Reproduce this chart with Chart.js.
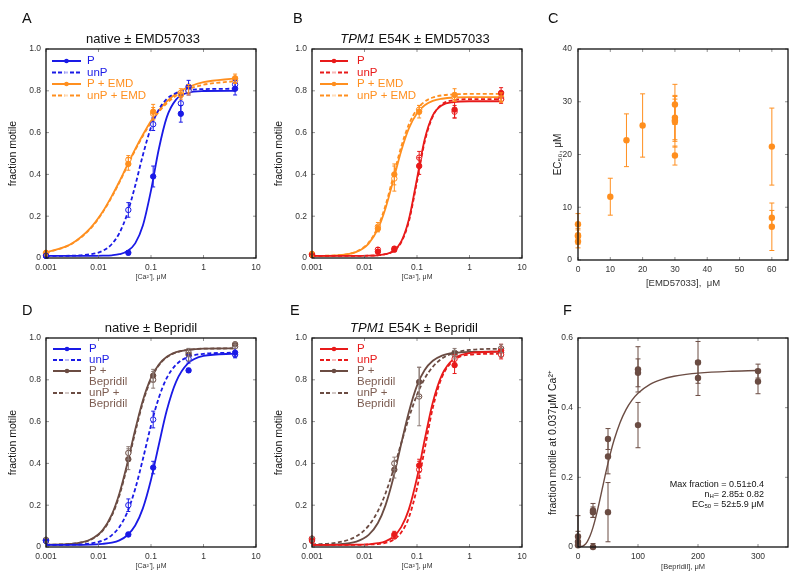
<!DOCTYPE html>
<html>
<head>
<meta charset="utf-8">
<script src="https://cdn.jsdelivr.net/npm/chart.js@4.4.0/dist/chart.umd.min.js"></script>
<style>
  body { margin: 0; background: #fff; width: 800px; height: 582px; position: relative; overflow: hidden;
         font-family: "Liberation Sans", Arial, Helvetica, sans-serif; color: #111; }
  .panel { position: absolute; width: 266px; height: 290px; }
  .letter { position: absolute; font-size: 14.5px; line-height: 1; }
  .ptitle { position: absolute; font-size: 13px; line-height: 1; white-space: nowrap; transform: translateX(-50%); }
  .note { position: absolute; right: 36px; top: 479px; font-size: 9px; line-height: 10px; text-align: right; }
  .note sub { font-size: 6px; line-height: 0; vertical-align: -1px; }
</style>
</head>
<body>
<div class="panel" style="left:0;top:0"><canvas id="chartA" width="266" height="290"></canvas></div>
<div class="panel" style="left:266px;top:0"><canvas id="chartB" width="266" height="290"></canvas></div>
<div class="panel" style="left:532px;top:0"><canvas id="chartC" width="266" height="290"></canvas></div>
<div class="panel" style="left:0;top:289px"><canvas id="chartD" width="266" height="290"></canvas></div>
<div class="panel" style="left:266px;top:289px"><canvas id="chartE" width="266" height="290"></canvas></div>
<div class="panel" style="left:532px;top:289px"><canvas id="chartF" width="266" height="290"></canvas></div>

<div class="letter" style="left:22px;top:11px">A</div>
<div class="ptitle" style="left:143px;top:32px">native ± EMD57033</div>
<div class="letter" style="left:293px;top:11px">B</div>
<div class="ptitle" style="left:415px;top:32px"><i>TPM1</i> E54K ± EMD57033</div>
<div class="letter" style="left:548px;top:11px">C</div>
<div class="letter" style="left:22px;top:303px">D</div>
<div class="ptitle" style="left:151px;top:321px">native ± Bepridil</div>
<div class="letter" style="left:290px;top:303px">E</div>
<div class="ptitle" style="left:414px;top:321px"><i>TPM1</i> E54K ± Bepridil</div>
<div class="letter" style="left:563px;top:303px">F</div>
<div class="note">Max fraction = 0.51±0.4<br>n<sub>H</sub>= 2.85± 0.82<br>EC<sub>50</sub> = 52±5.9 μM</div>

<script>
// ---- shared [Ca2+] axis ----
const caTicks = [0.001, 0.01, 0.1, 1, 10];
const caTickLabels = ['0.001', '0.01', '0.1', '1', '10'];
const motileTicks = [0, 0.2, 0.4, 0.6, 0.8, 1.0];
const motileTickLabels = ['0', '0.2', '0.4', '0.6', '0.8', '1.0'];
const caCurveX = [0.001, 0.003, 0.007, 0.012, 0.018, 0.025, 0.035, 0.05, 0.07, 0.1, 0.14, 0.2, 0.3, 0.5, 1, 4];

// ---- A: native +/- EMD57033 ----
const aX = [0.001, 0.037, 0.11, 0.37, 0.52, 4];
const aP = [0.01, 0.025, 0.39, 0.69, 0.82, 0.81];
const aPErr = [0.005, 0.01, 0.05, 0.04, 0.03, 0.03];
const aUnP = [0.01, 0.23, 0.64, 0.74, 0.80, 0.83];
const aUnPErr = [0.005, 0.035, 0.03, 0.04, 0.02, 0.02];
const aEmdP = [0.02, 0.45, 0.70, 0.78, 0.81, 0.86];
const aEmdPErr = [0.01, 0.03, 0.035, 0.02, 0.02, 0.02];
const aEmdUnP = [0.025, 0.47, 0.69, 0.79, 0.80, 0.85];
const aEmdUnPErr = [0.01, 0.02, 0.03, 0.02, 0.02, 0.015];
const aFitP = [0.010, 0.010, 0.010, 0.011, 0.013, 0.018, 0.032, 0.070, 0.155, 0.323, 0.518, 0.674, 0.758, 0.791, 0.799, 0.800];
const aFitUnP = [0.010, 0.011, 0.018, 0.034, 0.067, 0.119, 0.209, 0.346, 0.492, 0.625, 0.709, 0.761, 0.789, 0.803, 0.808, 0.810];
const aFitEmdP = [0.026, 0.067, 0.143, 0.221, 0.297, 0.366, 0.442, 0.521, 0.590, 0.656, 0.706, 0.749, 0.786, 0.817, 0.841, 0.859];
const aFitEmdUnP = [0.025, 0.066, 0.140, 0.218, 0.293, 0.362, 0.437, 0.516, 0.584, 0.648, 0.698, 0.740, 0.776, 0.806, 0.829, 0.846];

// ---- B: TPM1 E54K +/- EMD57033 ----
const bX = [0.001, 0.018, 0.037, 0.11, 0.52, 4];
const bP = [0.015, 0.03, 0.04, 0.44, 0.71, 0.79];
const bPErr = [0.01, 0.01, 0.01, 0.04, 0.04, 0.025];
const bUnP = [0.015, 0.04, 0.045, 0.48, 0.70, 0.76];
const bUnPErr = [0.01, 0.01, 0.01, 0.03, 0.03, 0.02];
const bEmdP = [0.02, 0.14, 0.40, 0.70, 0.78, 0.76];
const bEmdPErr = [0.01, 0.015, 0.05, 0.03, 0.03, 0.015];
const bEmdUnP = [0.015, 0.15, 0.38, 0.71, 0.77, 0.77];
const bEmdUnPErr = [0.01, 0.02, 0.06, 0.02, 0.02, 0.02];
const bFitP = [0.010, 0.010, 0.010, 0.011, 0.013, 0.018, 0.032, 0.078, 0.184, 0.380, 0.567, 0.682, 0.731, 0.746, 0.750, 0.750];
const bFitUnP = [0.010, 0.010, 0.010, 0.011, 0.013, 0.018, 0.032, 0.075, 0.175, 0.366, 0.556, 0.678, 0.736, 0.755, 0.760, 0.760];
const bFitEmdP = [0.010, 0.013, 0.029, 0.069, 0.139, 0.236, 0.367, 0.512, 0.620, 0.693, 0.731, 0.752, 0.762, 0.768, 0.770, 0.770];
const bFitEmdUnP = [0.010, 0.013, 0.031, 0.074, 0.149, 0.250, 0.386, 0.532, 0.639, 0.711, 0.748, 0.768, 0.778, 0.783, 0.785, 0.785];

// ---- C: EC50 vs [EMD57033] ----
const cTicksX = [0, 10, 20, 30, 40, 50, 60];
const cTicksY = [0, 10, 20, 30, 40];
const cX = [0, 0, 0, 0, 10, 15, 20, 30, 30, 30, 30, 30, 60, 60, 60];
const cY = [6.8, 4.7, 4.5, 3.5, 12, 22.7, 25.5, 29.5, 27, 26.5, 26.2, 19.8, 21.5, 8, 6.3];
const cErr = [2, 1, 1.5, 1.2, 3.5, 5, 6, 3.8, 4.2, 4, 4.8, 1.8, 7.3, 1.4, 4.5];

// ---- D: native +/- Bepridil ----
const dX = [0.001, 0.037, 0.11, 0.52, 4];
const dP = [0.03, 0.06, 0.38, 0.845, 0.93];
const dPErr = [0.01, 0.01, 0.03, 0.01, 0.02];
const dUnP = [0.03, 0.20, 0.61, 0.90, 0.92];
const dUnPErr = [0.01, 0.03, 0.04, 0.02, 0.015];
const dBepP = [0.03, 0.42, 0.82, 0.92, 0.97];
const dBepPErr = [0.01, 0.05, 0.03, 0.03, 0.01];
const dBepUnP = [0.035, 0.45, 0.80, 0.93, 0.96];
const dBepUnPErr = [0.01, 0.03, 0.04, 0.02, 0.01];
const dFitP = [0.010, 0.010, 0.011, 0.015, 0.021, 0.032, 0.055, 0.103, 0.185, 0.322, 0.486, 0.654, 0.790, 0.877, 0.914, 0.925];
const dFitUnP = [0.010, 0.011, 0.017, 0.031, 0.057, 0.096, 0.164, 0.278, 0.420, 0.582, 0.712, 0.809, 0.872, 0.909, 0.924, 0.930];
const dFitBepP = [0.011, 0.015, 0.036, 0.081, 0.156, 0.256, 0.395, 0.561, 0.701, 0.809, 0.872, 0.910, 0.932, 0.943, 0.949, 0.950];
const dFitBepUnP = [0.011, 0.015, 0.034, 0.078, 0.150, 0.247, 0.384, 0.549, 0.692, 0.803, 0.868, 0.908, 0.931, 0.943, 0.949, 0.950];

// ---- E: TPM1 E54K +/- Bepridil ----
const eX = [0.001, 0.037, 0.11, 0.52, 4];
const eP = [0.03, 0.06, 0.39, 0.87, 0.94];
const ePErr = [0.01, 0.015, 0.03, 0.04, 0.03];
const eUnP = [0.04, 0.05, 0.37, 0.90, 0.92];
const eUnPErr = [0.01, 0.01, 0.04, 0.02, 0.02];
const eBepP = [0.04, 0.37, 0.79, 0.93, 0.93];
const eBepPErr = [0.01, 0.04, 0.07, 0.02, 0.02];
const eBepUnP = [0.035, 0.40, 0.72, 0.92, 0.95];
const eBepUnPErr = [0.01, 0.03, 0.14, 0.02, 0.02];
const eFitP = [0.010, 0.010, 0.011, 0.013, 0.018, 0.027, 0.048, 0.095, 0.180, 0.331, 0.513, 0.692, 0.825, 0.900, 0.928, 0.935];
const eFitUnP = [0.010, 0.010, 0.010, 0.012, 0.014, 0.020, 0.034, 0.069, 0.141, 0.282, 0.468, 0.666, 0.814, 0.893, 0.920, 0.925];
const eFitBepP = [0.010, 0.013, 0.026, 0.058, 0.115, 0.198, 0.325, 0.493, 0.646, 0.772, 0.847, 0.891, 0.916, 0.929, 0.934, 0.935];
const eFitBepUnP = [0.012, 0.021, 0.051, 0.102, 0.172, 0.255, 0.364, 0.496, 0.618, 0.728, 0.806, 0.862, 0.902, 0.928, 0.943, 0.949];

// ---- F: fraction motile at 0.037 uM Ca vs [Bepridil] ----
const fTicksX = [0, 100, 200, 300];
const fTicksY = [0, 0.2, 0.4, 0.6];
const fTickLabelsY = ['0', '0.2', '0.4', '0.6'];
const fX = [0, 0, 0, 25, 25, 25, 50, 50, 50, 100, 100, 100, 200, 200, 300, 300];
const fY = [0.03, 0.015, 0.005, 0.105, 0.10, 0.0, 0.31, 0.26, 0.10, 0.51, 0.50, 0.35, 0.53, 0.485, 0.505, 0.475];
const fErr = [0.06, 0.03, 0.01, 0.02, 0.015, 0.01, 0.03, 0.05, 0.085, 0.065, 0.04, 0.065, 0.06, 0.05, 0.02, 0.035];
const fCurveX = [0, 5, 10, 15, 20, 25, 30, 35, 40, 45, 50, 55, 60, 70, 80, 90, 100, 120, 140, 160, 180, 200, 250, 300];
const fCurveY = [0, 0.0007, 0.0046, 0.0143, 0.0314, 0.0563, 0.088, 0.1247, 0.1639, 0.2032, 0.2407, 0.2753, 0.3063, 0.357, 0.3945, 0.4217, 0.4415, 0.4669, 0.4814, 0.4901, 0.4956, 0.4993, 0.5043, 0.5066];

const BLUE = '#1a1ae6', RED = '#e81a1a', ORANGE = '#ff8f1f', BROWN = '#6b4c43';
const BROWN_TEXT = '#7d5d52', BROWN_ERR = '#8c7a74';
const FONT = '"Liberation Sans", Arial, Helvetica, sans-serif';
Chart.defaults.font.family = FONT;
Chart.defaults.color = '#222';

const pts = (xs, ys) => xs.map((x, i) => ({ x: x, y: ys[i] }));

// box around the plot with short inward ticks on all sides
const frame = {
  id: 'frame',
  afterDraw(chart) {
    const { ctx, chartArea: a, scales } = chart;
    ctx.save();
    ctx.strokeStyle = '#777';
    ctx.lineWidth = 0.8;
    ctx.beginPath();
    scales.x.ticks.forEach(t => {
      const px = scales.x.getPixelForValue(t.value);
      ctx.moveTo(px, a.bottom); ctx.lineTo(px, a.bottom - 3);
      ctx.moveTo(px, a.top); ctx.lineTo(px, a.top + 3);
    });
    scales.y.ticks.forEach(t => {
      const py = scales.y.getPixelForValue(t.value);
      ctx.moveTo(a.left, py); ctx.lineTo(a.left + 3, py);
      ctx.moveTo(a.right, py); ctx.lineTo(a.right - 3, py);
    });
    ctx.stroke();
    ctx.strokeStyle = '#111';
    ctx.lineWidth = 1.3;
    ctx.strokeRect(a.left, a.top, a.right - a.left, a.bottom - a.top);
    ctx.restore();
  }
};

const errorBars = {
  id: 'errorBars',
  afterDatasetsDraw(chart) {
    const { ctx, scales: { x, y } } = chart;
    ctx.save();
    chart.data.datasets.forEach(ds => {
      if (!ds.errors) return;
      ctx.strokeStyle = ds.errorColor || ds.pointBorderColor;
      ctx.lineWidth = 1;
      const cap = ds.capWidth || 2;
      ds.data.forEach((p, j) => {
        const e = ds.errors[j];
        if (!e) return;
        const px = x.getPixelForValue(p.x);
        const top = y.getPixelForValue(p.y + e);
        const bot = y.getPixelForValue(Math.max(p.y - e, y.min));
        ctx.beginPath();
        ctx.moveTo(px, top); ctx.lineTo(px, bot);
        ctx.moveTo(px - cap, top); ctx.lineTo(px + cap, top);
        if (p.y - e > y.min) { ctx.moveTo(px - cap, bot); ctx.lineTo(px + cap, bot); }
        ctx.stroke();
      });
    });
    ctx.restore();
  }
};

const insideLegend = {
  id: 'insideLegend',
  afterDraw(chart, args, opts) {
    if (!opts.show) return;
    const { ctx, chartArea: a } = chart;
    let y = a.top + opts.top;
    ctx.save();
    ctx.font = '11.5px ' + FONT;
    ctx.textBaseline = 'middle';
    chart.data.datasets.forEach(ds => {
      if (!ds.legendText) return;
      const x0 = a.left + opts.lineFrom, x1 = a.left + opts.lineTo;
      ctx.strokeStyle = ds.borderColor;
      ctx.lineWidth = 2;
      ctx.setLineDash(ds.borderDash.length ? [4, 2] : []);
      ctx.beginPath(); ctx.moveTo(x0, y); ctx.lineTo(x1, y); ctx.stroke();
      ctx.setLineDash([]);
      ctx.fillStyle = ds.dotFill;
      ctx.beginPath(); ctx.arc((x0 + x1) / 2, y, 2.3, 0, Math.PI * 2); ctx.fill();
      ctx.fillStyle = ds.textColor;
      ds.legendText.forEach(line => { ctx.fillText(line, a.left + opts.textAt, y); y += opts.rowH; });
    });
    ctx.restore();
  }
};

function fixedTicks(values) {
  return s => { s.ticks = values.map(v => ({ value: v })); };
}

function makeChart(id, datasets, scales, legendOpts) {
  return new Chart(document.getElementById(id), {
    type: 'scatter',
    data: { datasets: datasets },
    options: {
      responsive: false,
      animation: false,
      events: [],
      layout: { padding: { top: 49, right: 10, left: 0, bottom: 0 } },
      scales: scales,
      plugins: {
        legend: { display: false },
        tooltip: { enabled: false },
        insideLegend: legendOpts || { show: false }
      }
    },
    plugins: [errorBars, frame, insideLegend]
  });
}

function caScales() {
  return {
    x: {
      type: 'logarithmic', min: 0.001, max: 10,
      afterBuildTicks: fixedTicks(caTicks),
      afterFit: s => { s.height = 32; },
      ticks: { callback: (v, i) => caTickLabels[i], font: { size: 8.5 }, color: '#333', padding: 5, maxRotation: 0, autoSkip: false },
      grid: { display: false, drawTicks: false }, border: { display: false },
      title: { display: true, text: '[Ca²⁺], μM', font: { size: 7 }, color: '#333', padding: { top: 0, bottom: 8.5 } }
    },
    y: {
      min: 0, max: 1,
      afterBuildTicks: fixedTicks(motileTicks),
      afterFit: s => { s.width = 46; },
      ticks: { callback: (v, i) => motileTickLabels[i], font: { size: 8.5 }, color: '#333', padding: 5 },
      grid: { display: false, drawTicks: false }, border: { display: false },
      title: { display: true, text: 'fraction motile', font: { size: 10.5 }, color: '#111', padding: { top: 6.5, bottom: 0 } }
    }
  };
}

// one series = fitted curve + measured points with error bars
function caSeries(name, xs, ys, errs, fit, color, dashed, textColor, errColor) {
  const fill = dashed ? '#ffffff' : color;
  return [
    {
      data: pts(caCurveX, fit), showLine: true, pointRadius: 0, borderColor: color, borderWidth: 1.8,
      borderDash: dashed ? [4, 2.5] : [], cubicInterpolationMode: 'monotone', order: 2,
      legendText: name, textColor: textColor || color, dotFill: dashed ? 'rgba(255,255,255,0.7)' : color
    },
    {
      data: pts(xs, ys), showLine: false, pointRadius: 2.7, pointBorderWidth: 1,
      pointBackgroundColor: fill, pointBorderColor: color, errors: errs, errorColor: errColor || color,
      capWidth: 2, order: 1, clip: false
    }
  ];
}

const legendEmd = { show: true, top: 12, lineFrom: 6, lineTo: 35, textAt: 41, rowH: 11.5 };
const legendBep = { show: true, top: 11, lineFrom: 7, lineTo: 35, textAt: 43, rowH: 11 };

makeChart('chartA', [
  ...caSeries(['P'], aX, aP, aPErr, aFitP, BLUE, false),
  ...caSeries(['unP'], aX, aUnP, aUnPErr, aFitUnP, BLUE, true),
  ...caSeries(['P + EMD'], aX, aEmdP, aEmdPErr, aFitEmdP, ORANGE, false),
  ...caSeries(['unP + EMD'], aX, aEmdUnP, aEmdUnPErr, aFitEmdUnP, ORANGE, true)
], caScales(), legendEmd);

makeChart('chartB', [
  ...caSeries(['P'], bX, bP, bPErr, bFitP, RED, false),
  ...caSeries(['unP'], bX, bUnP, bUnPErr, bFitUnP, RED, true),
  ...caSeries(['P + EMD'], bX, bEmdP, bEmdPErr, bFitEmdP, ORANGE, false),
  ...caSeries(['unP + EMD'], bX, bEmdUnP, bEmdUnPErr, bFitEmdUnP, ORANGE, true)
], caScales(), Object.assign({}, legendEmd, { lineFrom: 8, lineTo: 36, textAt: 45 }));

makeChart('chartD', [
  ...caSeries(['P'], dX, dP, dPErr, dFitP, BLUE, false),
  ...caSeries(['unP'], dX, dUnP, dUnPErr, dFitUnP, BLUE, true),
  ...caSeries(['P +', 'Bepridil'], dX, dBepP, dBepPErr, dFitBepP, BROWN, false, BROWN_TEXT, BROWN_ERR),
  ...caSeries(['unP +', 'Bepridil'], dX, dBepUnP, dBepUnPErr, dFitBepUnP, BROWN, true, BROWN_TEXT, BROWN_ERR)
], caScales(), legendBep);

makeChart('chartE', [
  ...caSeries(['P'], eX, eP, ePErr, eFitP, RED, false),
  ...caSeries(['unP'], eX, eUnP, eUnPErr, eFitUnP, RED, true),
  ...caSeries(['P +', 'Bepridil'], eX, eBepP, eBepPErr, eFitBepP, BROWN, false, BROWN_TEXT, BROWN_ERR),
  ...caSeries(['unP +', 'Bepridil'], eX, eBepUnP, eBepUnPErr, eFitBepUnP, BROWN, true, BROWN_TEXT, BROWN_ERR)
], caScales(), Object.assign({}, legendBep, { lineFrom: 8, lineTo: 36, textAt: 45 }));

makeChart('chartC', [
  {
    data: pts(cX, cY), showLine: false, pointRadius: 3.2, pointBorderWidth: 0,
    pointBackgroundColor: ORANGE, errors: cErr, errorColor: ORANGE, capWidth: 2.5, clip: false
  }
], {
  x: {
    min: 0, max: 65,
    afterBuildTicks: fixedTicks(cTicksX),
    afterFit: s => { s.height = 30; },
    ticks: { font: { size: 8.5 }, color: '#333', padding: 5, maxRotation: 0 },
    grid: { display: false, drawTicks: false }, border: { display: false },
    title: { display: true, text: '[EMD57033],  μM', font: { size: 9.5 }, color: '#333', padding: { top: 0, bottom: 1 } }
  },
  y: {
    min: 0, max: 40,
    afterBuildTicks: fixedTicks(cTicksY),
    afterFit: s => { s.width = 46; },
    ticks: { font: { size: 8.5 }, color: '#333', padding: 6 },
    grid: { display: false, drawTicks: false }, border: { display: false },
    title: { display: true, text: 'EC₅₀, μM', font: { size: 10 }, color: '#222', padding: { top: 20, bottom: 0 } }
  }
});

makeChart('chartF', [
  {
    data: pts(fX, fY), showLine: false, pointRadius: 3.2, pointBorderWidth: 0,
    pointBackgroundColor: BROWN, errors: fErr, errorColor: BROWN, capWidth: 2.5, order: 1, clip: false
  },
  {
    data: pts(fCurveX, fCurveY), showLine: true, pointRadius: 0, borderColor: BROWN, borderWidth: 1.4,
    cubicInterpolationMode: 'monotone', order: 2
  }
], {
  x: {
    min: 0, max: 350,
    afterBuildTicks: fixedTicks(fTicksX),
    afterFit: s => { s.height = 32; },
    ticks: { font: { size: 8.5 }, color: '#333', padding: 5, maxRotation: 0 },
    grid: { display: false, drawTicks: false }, border: { display: false },
    title: { display: true, text: '[Bepridil], μM', font: { size: 7.5 }, color: '#333', padding: { top: 0, bottom: 7.5 } }
  },
  y: {
    min: 0, max: 0.6,
    afterBuildTicks: fixedTicks(fTicksY),
    afterFit: s => { s.width = 46; },
    ticks: { callback: (v, i) => fTickLabelsY[i], font: { size: 8.5 }, color: '#333', padding: 5 },
    grid: { display: false, drawTicks: false }, border: { display: false },
    title: { display: true, text: 'fraction motile at 0.037μM Ca²⁺', font: { size: 10.5 }, color: '#222', padding: { top: 14.5, bottom: 0 } }
  }
});
</script>
</body>
</html>
